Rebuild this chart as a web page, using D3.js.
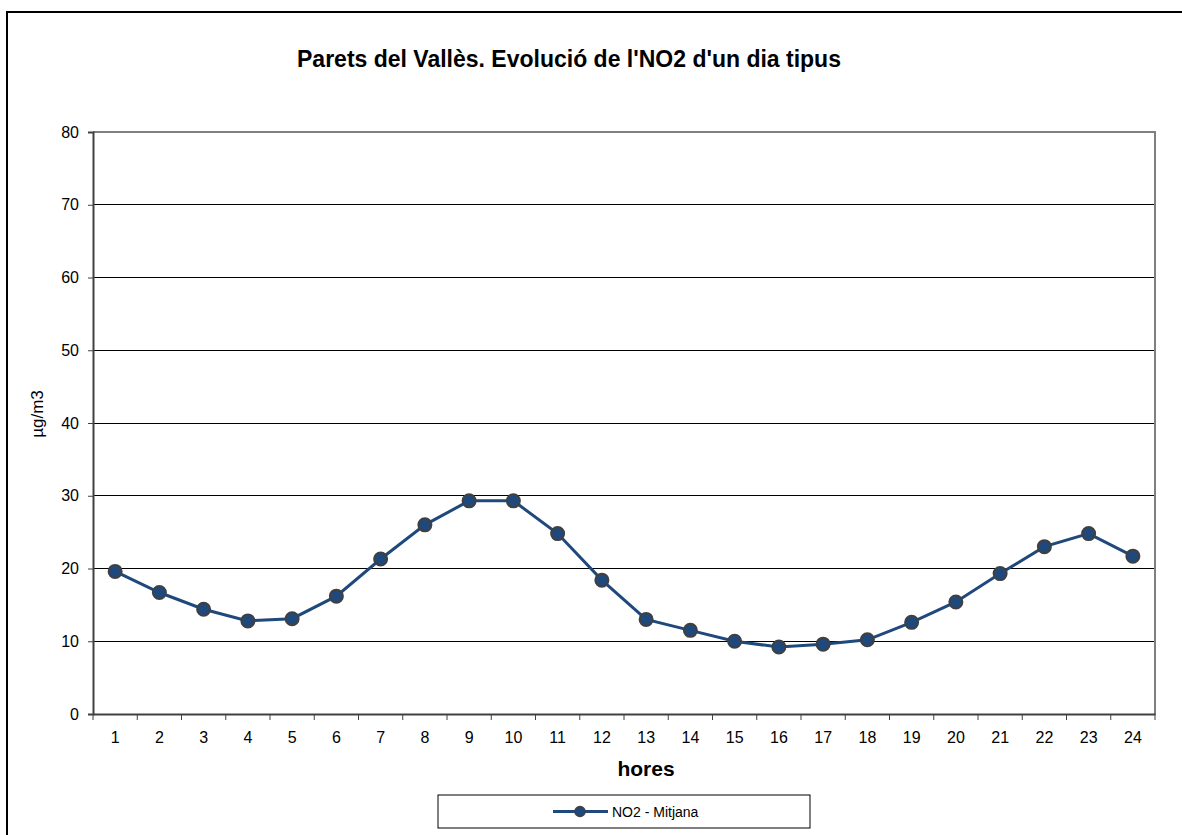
<!doctype html>
<html lang="ca">
<head>
  <meta charset="utf-8">
  <title>Parets del Vallès - NO2</title>
  <style>
    body { margin:0; background:#fff; }
    svg { display:block; font-family: Arial, "Liberation Sans", sans-serif; }
  </style>
</head>
<body>
<div id="chart"></div>
<script src="https://cdn.jsdelivr.net/npm/d3@7"></script>
<script>
// data
var hours = [1,2,3,4,5,6,7,8,9,10,11,12,13,14,15,16,17,18,19,20,21,22,23,24];
var no2 = [19.6,16.7,14.4,12.8,13.1,16.2,21.3,26.0,29.3,29.3,24.8,18.4,13.0,11.5,10.0,9.2,9.6,10.2,12.6,15.4,19.3,23.0,24.8,21.7];
var yTicks = [0,10,20,30,40,50,60,70,80];

var W = 1182, H = 835;
var plot = {left:93, right:1155, top:132, bottom:714};

var svg = d3.select("#chart").append("svg").attr("width", W).attr("height", H);

// outer chart border
svg.append("rect").attr("x",7).attr("y",12).attr("width",1200).attr("height",900)
  .attr("fill","none").attr("stroke","#000").attr("stroke-width",2);

var x = d3.scaleBand().domain(hours).range([plot.left, plot.right]).padding(0);
var y = d3.scaleLinear().domain([0,80]).range([plot.bottom, plot.top]);

// gridlines
svg.append("g").selectAll("line").data(yTicks.filter(function(d){ return d>0 && d<80; }))
  .join("line")
  .attr("x1",plot.left).attr("x2",plot.right)
  .attr("y1",function(d){ return y(d); }).attr("y2",function(d){ return y(d); })
  .attr("stroke","#000").attr("stroke-width",1).attr("shape-rendering","crispEdges");

// plot border top / right (grey)
svg.append("path")
  .attr("d","M"+plot.left+","+y(80)+"H"+plot.right+"V"+plot.bottom)
  .attr("fill","none").attr("stroke","#808080").attr("stroke-width",2);

// y axis
var yAxis = d3.axisLeft(y).tickValues(yTicks).tickSize(5).tickPadding(9);
var gy = svg.append("g").attr("transform","translate("+plot.left+",0)").call(yAxis);
gy.select(".domain").attr("stroke","#404040").attr("stroke-width",2);
gy.selectAll(".tick line").attr("stroke","#404040");
gy.selectAll(".tick text").attr("font-size",16).attr("fill","#000")
  .attr("font-family","Arial, 'Liberation Sans', sans-serif");

// x axis: ticks between categories
var xAxis = d3.axisBottom(x).tickSize(0).tickPadding(18);
var gx = svg.append("g").attr("transform","translate(0,"+plot.bottom+")").call(xAxis);
gx.select(".domain").attr("stroke","#404040").attr("stroke-width",2);
gx.selectAll(".tick text").attr("font-size",16).attr("fill","#000")
  .attr("font-family","Arial, 'Liberation Sans', sans-serif");
gx.selectAll(".sep").data(hours.concat([25])).join("line").attr("class","sep")
  .attr("x1",function(d){ return d<25 ? x(d) : plot.right; })
  .attr("x2",function(d){ return d<25 ? x(d) : plot.right; })
  .attr("y1",0).attr("y2",6).attr("stroke","#404040").attr("stroke-width",1);

// line + markers
var line = d3.line()
  .x(function(d,i){ return x(hours[i]) + x.bandwidth()/2; })
  .y(function(d){ return y(d); });

svg.append("path").datum(no2).attr("d",line)
  .attr("fill","none").attr("stroke","#1F497D").attr("stroke-width",3);

svg.append("g").selectAll("circle").data(no2).join("circle")
  .attr("cx",function(d,i){ return x(hours[i]) + x.bandwidth()/2; })
  .attr("cy",function(d){ return y(d); })
  .attr("r",6.5).attr("fill","#1F497D").attr("stroke","#404040").attr("stroke-width",2);

// titles
svg.append("text").attr("x",569).attr("y",67).attr("text-anchor","middle")
  .attr("font-size",23).attr("font-weight","bold")
  .text("Parets del Vallès. Evolució de l'NO2 d'un dia tipus");

svg.append("text").attr("x",646).attr("y",776).attr("text-anchor","middle")
  .attr("font-size",21).attr("font-weight","bold").text("hores");

svg.append("text").attr("transform","translate(43,414) rotate(-90)")
  .attr("text-anchor","middle").attr("font-size",17).text("µg/m3");

// legend
var lg = svg.append("g");
lg.append("rect").attr("x",438).attr("y",795).attr("width",372).attr("height",33)
  .attr("fill","#fff").attr("stroke","#000").attr("stroke-width",1);
lg.append("line").attr("x1",553).attr("x2",608).attr("y1",811.5).attr("y2",811.5)
  .attr("stroke","#1F497D").attr("stroke-width",3);
lg.append("circle").attr("cx",580).attr("cy",811.5).attr("r",5)
  .attr("fill","#1F497D").attr("stroke","#404040").attr("stroke-width",1.5);
lg.append("text").attr("x",612).attr("y",817).attr("font-size",14).text("NO2 - Mitjana");
</script>
</body>
</html>
